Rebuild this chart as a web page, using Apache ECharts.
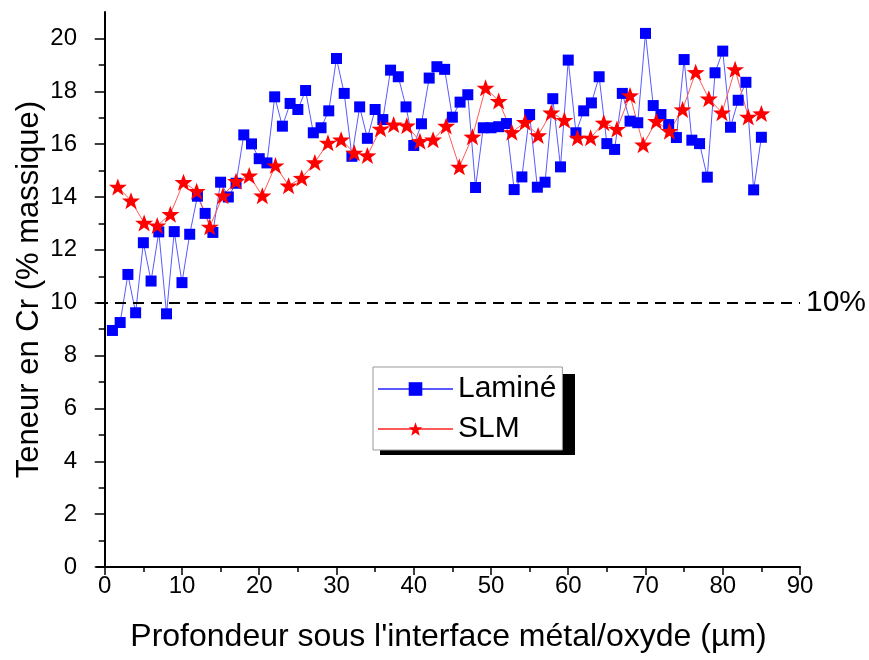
<!DOCTYPE html>
<html lang="fr">
<head>
<meta charset="UTF-8">
<title>Teneur en Cr</title>
<script src="https://cdn.jsdelivr.net/npm/echarts@6/dist/echarts.min.js"></script>
<style>
    html, body { margin: 0; padding: 0; background: #fff; }
    #box { width: 869px; height: 660px; }
</style>
</head>
<body>
<div id="box"></div>
<script>
// profondeur sous l'interface (µm) / teneur en Cr (% massique)
var lamineDepth = [1, 2, 3, 4, 5, 6, 7, 8, 9, 10, 11, 12, 13, 14, 15, 16, 17, 18, 19, 20,
    21, 22, 23, 24, 25, 26, 27, 28, 29, 30, 31, 32, 33, 34, 35, 36, 37, 38, 39, 40,
    41, 42, 43, 44, 45, 46, 47, 48, 49, 50, 51, 52, 53, 54, 55, 56, 57, 58, 59, 60,
    61, 62, 63, 64, 65, 66, 67, 68, 69, 70, 71, 72, 73, 74, 75, 76, 77, 78, 79, 80,
    81, 82, 83, 84, 85];
var lamineCr = [8.95, 9.25, 11.07, 9.62, 12.27, 10.82, 12.68, 9.58, 12.69, 10.76,
    12.59, 14.03, 13.38, 12.66, 14.56, 14.0, 14.52, 16.35, 16.01, 15.45,
    15.29, 17.79, 16.68, 17.54, 17.31, 18.03, 16.43, 16.62, 17.26, 19.24,
    17.92, 15.54, 17.41, 16.22, 17.31, 16.93, 18.8, 18.55, 17.41, 15.95,
    16.77, 18.5, 18.93, 18.83, 17.02, 17.59, 17.87, 14.36, 16.62, 16.62,
    16.66, 16.78, 14.28, 14.76, 17.12, 14.37, 14.56, 17.72, 15.14, 19.18,
    16.43, 17.26, 17.56, 18.55, 16.02, 15.8, 17.92, 16.87, 16.81, 20.19,
    17.46, 17.12, 16.74, 16.25, 19.2, 16.15, 16.02, 14.75, 18.7, 19.52,
    16.64, 17.66, 18.34, 14.27, 16.26];

var slmDepth = [1.7, 3.4, 5.1, 6.8, 8.5, 10.2, 11.9, 13.6, 15.3, 17.0,
    18.7, 20.4, 22.1, 23.8, 25.5, 27.2, 28.9, 30.6, 32.3, 34.0,
    35.7, 37.4, 39.1, 40.8, 42.5, 44.2, 45.9, 47.6, 49.3, 51.0,
    52.7, 54.4, 56.1, 57.8, 59.5, 61.2, 62.9, 64.6, 66.3, 68.0,
    69.7, 71.4, 73.1, 74.8, 76.5, 78.2, 79.9, 81.6, 83.3, 85.0];
var slmCr = [14.38, 13.86, 13.02, 12.92, 13.35, 14.56, 14.22, 12.87, 14.05, 14.6,
    14.81, 14.05, 15.19, 14.43, 14.72, 15.31, 16.05, 16.17, 15.67, 15.57,
    16.58, 16.74, 16.7, 16.11, 16.17, 16.69, 15.14, 16.28, 18.13, 17.63,
    16.45, 16.83, 16.33, 17.19, 16.91, 16.24, 16.24, 16.81, 16.57, 17.84,
    15.98, 16.87, 16.49, 17.31, 18.72, 17.72, 17.19, 18.83, 17.03, 17.16];

var xTicks = [0, 10, 20, 30, 40, 50, 60, 70, 80, 90];
var xMinorTicks = [5, 15, 25, 35, 45, 55, 65, 75, 85];
var yTicks = [0, 2, 4, 6, 8, 10, 12, 14, 16, 18, 20];
var yMinorTicks = [1, 3, 5, 7, 9, 11, 13, 15, 17, 19];
var seuil = 10;

function zip(a, b) {
    return a.map(function (v, i) { return [v, b[i]]; });
}

var font = 'Arial, "Liberation Sans", sans-serif';
var star = 'path://M12,0.5 L14.9,8.7 L23.5,8.8 L16.7,14.1 L19.2,22.5 L12,17.4 L4.8,22.5 L7.3,14.1 L0.5,8.8 L9.1,8.7 Z';

var myChart = echarts.init(document.getElementById('box'));
var option = {
    animation: false,
    backgroundColor: '#fff',
    textStyle: { fontFamily: font },
    grid: { left: 97, right: 69, top: 12, bottom: 93 },
    // ombre noire derriere la legende
    graphic: [{
        type: 'rect',
        left: 380,
        top: 374,
        z: 1,
        shape: { width: 195, height: 81 },
        style: { fill: '#000' }
    }],
    legend: {
        orient: 'vertical',
        left: 373,
        top: 367,
        padding: [7, 6, 6, 4],
        itemWidth: 75,
        itemHeight: 17,
        itemGap: 10,
        backgroundColor: '#fff',
        borderColor: '#999',
        borderWidth: 1,
        z: 5,
        textStyle: { fontSize: 30, color: '#000', fontFamily: font },
        data: ['Laminé', 'SLM']
    },
    xAxis: [{
        type: 'value',
        min: -1,
        max: 90,
        name: "Profondeur sous l'interface métal/oxyde (µm)",
        nameLocation: 'middle',
        nameGap: 54,
        nameTextStyle: { fontSize: 32, color: '#000', fontFamily: font },
        axisLine: { onZero: false, lineStyle: { color: '#000', width: 2 } },
        axisTick: { customValues: xTicks, length: 8, lineStyle: { color: '#000', width: 1.5 } },
        axisLabel: { customValues: xTicks, fontSize: 24, color: '#000', margin: 7 },
        splitLine: { show: false }
    }, {
        type: 'value',
        min: -1,
        max: 90,
        position: 'bottom',
        axisLine: { show: false },
        axisTick: { customValues: xMinorTicks, length: 5, lineStyle: { color: '#000', width: 1.5 } },
        axisLabel: { show: false },
        splitLine: { show: false }
    }],
    yAxis: [{
        type: 'value',
        min: 0,
        max: 21,
        name: 'Teneur en Cr (% massique)',
        nameLocation: 'middle',
        nameGap: 52,
        nameMoveOverlap: false,
        nameTextStyle: { fontSize: 31, color: '#000', fontFamily: font },
        axisLine: { show: true, lineStyle: { color: '#000', width: 2 } },
        axisTick: { show: true, customValues: yTicks, length: 10, lineStyle: { color: '#000', width: 1.5 } },
        axisLabel: { customValues: yTicks, fontSize: 24, color: '#000', margin: 20 },
        splitLine: { show: false }
    }, {
        type: 'value',
        min: 0,
        max: 21,
        position: 'left',
        axisLine: { show: false },
        axisTick: { show: true, customValues: yMinorTicks, length: 6, lineStyle: { color: '#000', width: 1.5 } },
        axisLabel: { show: false },
        splitLine: { show: false }
    }],
    series: [{
        name: 'Laminé',
        type: 'line',
        data: zip(lamineDepth, lamineCr),
        symbol: 'rect',
        symbolSize: 11,
        itemStyle: { color: '#0000ff' },
        lineStyle: { color: '#5a5aff', width: 1 },
        markLine: {
            silent: true,
            symbol: 'none',
            lineStyle: { color: '#000', type: [11, 7], width: 2 },
            label: { position: 'end', formatter: '10%', fontSize: 30, color: '#000', distance: 6 },
            data: [{ yAxis: seuil }]
        }
    }, {
        name: 'SLM',
        type: 'line',
        data: zip(slmDepth, slmCr),
        symbol: star,
        symbolSize: [18, 17],
        itemStyle: { color: '#ff0000' },
        lineStyle: { color: '#ff5a5a', width: 1 }
    }]
};
myChart.setOption(option);
</script>
</body>
</html>
